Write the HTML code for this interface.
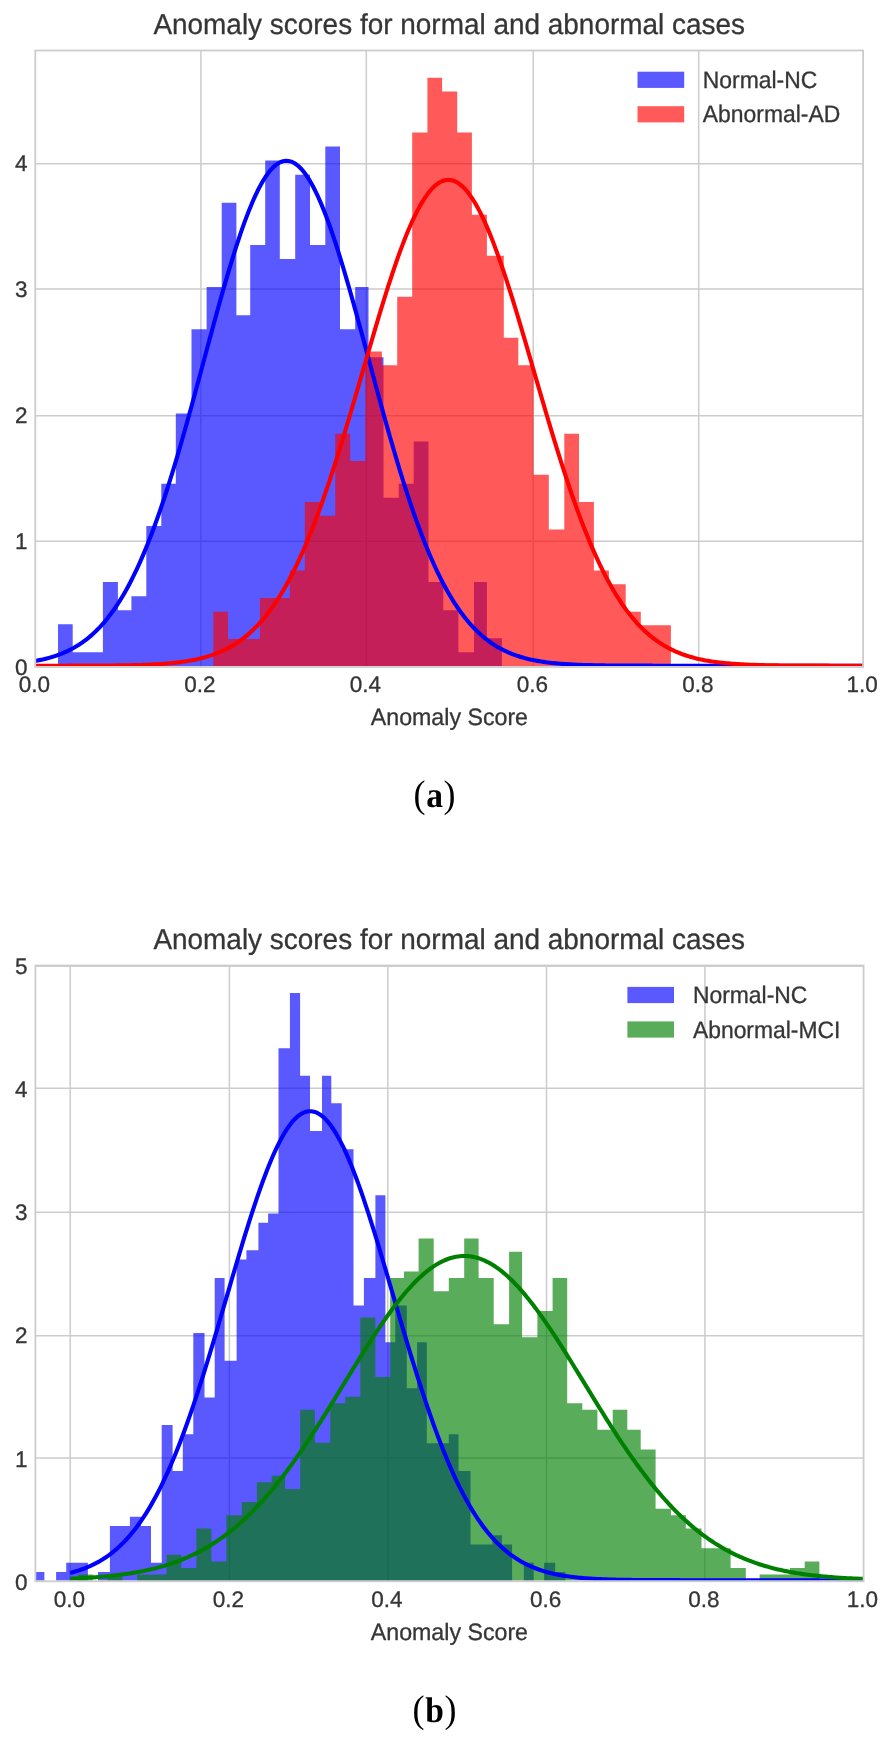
<!DOCTYPE html>
<html><head><meta charset="utf-8"><title>Anomaly scores</title>
<style>html,body{margin:0;padding:0;background:#fff;width:890px;height:1739px;overflow:hidden}svg{display:block}text{stroke:#363636;stroke-width:0.3px}</style>
</head><body>
<svg width="890" height="1739" viewBox="0 0 890 1739" font-family='"Liberation Sans", sans-serif' fill="#363636" text-rendering="geometricPrecision">
<defs><filter id="tb" x="-5%" y="-20%" width="110%" height="140%"><feGaussianBlur stdDeviation="0.5"/></filter></defs>
<rect width="890" height="1739" fill="#fff"/>
<clipPath id="ca"><rect x="35.3" y="50.5" width="827.8" height="615.5"/></clipPath>
<path d="M200.9 50.5 V667 M366.3 50.5 V667 M533.2 50.5 V667 M698.7 50.5 V667 M35.3 163.8 H863.1 M35.3 289.1 H863.1 M35.3 415.8 H863.1 M35.3 541.3 H863.1" stroke="#cccccc" stroke-width="1.5" fill="none"/>
<g clip-path="url(#ca)">
<path d="M58 667 L58 624.25 L72.7 624.25 L72.7 652.35 L87.8 652.35 L87.8 652.35 L102.9 652.35 L102.9 582.1 L117.9 582.1 L117.9 610.2 L131.4 610.2 L131.4 596.15 L146.3 596.15 L146.3 525.9 L161.3 525.9 L161.3 483.75 L175.8 483.75 L175.8 413.5 L191.5 413.5 L191.5 329.2 L206.6 329.2 L206.6 287.05 L221.7 287.05 L221.7 202.75 L236.4 202.75 L236.4 315.15 L250.2 315.15 L250.2 244.9 L265.2 244.9 L265.2 160.6 L279.8 160.6 L279.8 258.95 L295.2 258.95 L295.2 174.65 L310 174.65 L310 244.9 L325.3 244.9 L325.3 146.55 L340 146.55 L340 329.2 L355.2 329.2 L355.2 287.05 L368.5 287.05 L368.5 357.3 L383.5 357.3 L383.5 497.8 L398.7 497.8 L398.7 483.75 L413.7 483.75 L413.7 441.6 L428.5 441.6 L428.5 582.1 L443.3 582.1 L443.3 610.2 L458.4 610.2 L458.4 652.35 L474 652.35 L474 582.1 L486.9 582.1 L486.9 638.3 L501.9 638.3 L501.9 667 Z" fill="#0000ff" fill-opacity="0.65"/>
<path d="M213.3 667 L213.3 611.64 L228 611.64 L228 639.02 L243.95 639.02 L243.95 639.02 L259.9 639.02 L259.9 597.95 L274.85 597.95 L274.85 597.95 L289.8 597.95 L289.8 570.57 L304.8 570.57 L304.8 502.12 L320 502.12 L320 515.81 L335.2 515.81 L335.2 433.67 L350.2 433.67 L350.2 461.05 L365.4 461.05 L365.4 351.53 L381.9 351.53 L381.9 365.22 L397.2 365.22 L397.2 296.77 L412.2 296.77 L412.2 132.49 L427.4 132.49 L427.4 77.73 L442.1 77.73 L442.1 91.42 L457.2 91.42 L457.2 132.49 L471.9 132.49 L471.9 214.63 L486.9 214.63 L486.9 255.7 L503.8 255.7 L503.8 337.84 L518.3 337.84 L518.3 365.22 L533.6 365.22 L533.6 474.74 L548.8 474.74 L548.8 529.5 L564.3 529.5 L564.3 433.67 L579 433.67 L579 502.12 L593.9 502.12 L593.9 570.57 L608.9 570.57 L608.9 584.26 L625.7 584.26 L625.7 611.64 L640.8 611.64 L640.8 625.33 L655.85 625.33 L655.85 625.33 L670.9 625.33 L670.9 667 Z" fill="#ff0000" fill-opacity="0.65"/>
<path d="M35.3 660.91 L37.37 660.53 L39.45 660.12 L41.52 659.69 L43.6 659.22 L45.67 658.72 L47.75 658.19 L49.82 657.62 L51.9 657.02 L53.97 656.37 L56.05 655.69 L58.12 654.96 L60.2 654.18 L62.27 653.36 L64.35 652.49 L66.42 651.56 L68.49 650.58 L70.57 649.54 L72.64 648.44 L74.72 647.28 L76.79 646.05 L78.87 644.75 L80.94 643.38 L83.02 641.94 L85.09 640.42 L87.17 638.82 L89.24 637.14 L91.32 635.37 L93.39 633.51 L95.47 631.56 L97.54 629.51 L99.62 627.37 L101.69 625.12 L103.76 622.77 L105.84 620.31 L107.91 617.74 L109.99 615.06 L112.06 612.27 L114.14 609.35 L116.21 606.32 L118.29 603.15 L120.36 599.87 L122.44 596.45 L124.51 592.91 L126.59 589.23 L128.66 585.41 L130.74 581.46 L132.81 577.37 L134.88 573.15 L136.96 568.78 L139.03 564.27 L141.11 559.61 L143.18 554.82 L145.26 549.88 L147.33 544.79 L149.41 539.57 L151.48 534.2 L153.56 528.69 L155.63 523.04 L157.71 517.25 L159.78 511.33 L161.86 505.27 L163.93 499.08 L166.01 492.76 L168.08 486.31 L170.15 479.75 L172.23 473.06 L174.3 466.26 L176.38 459.36 L178.45 452.34 L180.53 445.24 L182.6 438.03 L184.68 430.75 L186.75 423.38 L188.83 415.94 L190.9 408.44 L192.98 400.88 L195.05 393.27 L197.13 385.62 L199.2 377.94 L201.27 370.24 L203.35 362.52 L205.42 354.8 L207.5 347.09 L209.57 339.39 L211.65 331.71 L213.72 324.08 L215.8 316.49 L217.87 308.96 L219.95 301.5 L222.02 294.12 L224.1 286.83 L226.17 279.64 L228.25 272.57 L230.32 265.62 L232.4 258.81 L234.47 252.15 L236.54 245.64 L238.62 239.3 L240.69 233.14 L242.77 227.17 L244.84 221.41 L246.92 215.85 L248.99 210.51 L251.07 205.4 L253.14 200.53 L255.22 195.91 L257.29 191.54 L259.37 187.43 L261.44 183.6 L263.52 180.04 L265.59 176.77 L267.66 173.8 L269.74 171.11 L271.81 168.73 L273.89 166.65 L275.96 164.89 L278.04 163.44 L280.11 162.3 L282.19 161.48 L284.26 160.98 L286.34 160.8 L288.41 160.94 L290.49 161.41 L292.56 162.19 L294.64 163.29 L296.71 164.71 L298.79 166.44 L300.86 168.48 L302.93 170.83 L305.01 173.48 L307.08 176.42 L309.16 179.66 L311.23 183.18 L313.31 186.99 L315.38 191.06 L317.46 195.4 L319.53 199.99 L321.61 204.84 L323.68 209.92 L325.76 215.23 L327.83 220.77 L329.91 226.51 L331.98 232.46 L334.05 238.59 L336.13 244.91 L338.2 251.4 L340.28 258.05 L342.35 264.84 L344.43 271.78 L346.5 278.84 L348.58 286.01 L350.65 293.29 L352.73 300.66 L354.8 308.11 L356.88 315.63 L358.95 323.22 L361.03 330.85 L363.1 338.52 L365.18 346.21 L367.25 353.93 L369.32 361.65 L371.4 369.37 L373.47 377.07 L375.55 384.75 L377.62 392.41 L379.7 400.02 L381.77 407.59 L383.85 415.1 L385.92 422.54 L388 429.92 L390.07 437.21 L392.15 444.42 L394.22 451.54 L396.3 458.57 L398.37 465.49 L400.44 472.3 L402.52 479 L404.59 485.58 L406.67 492.04 L408.74 498.37 L410.82 504.58 L412.89 510.65 L414.97 516.59 L417.04 522.39 L419.12 528.06 L421.19 533.58 L423.27 538.97 L425.34 544.21 L427.42 549.31 L429.49 554.26 L431.57 559.08 L433.64 563.75 L435.71 568.27 L437.79 572.66 L439.86 576.9 L441.94 581.01 L444.01 584.97 L446.09 588.8 L448.16 592.5 L450.24 596.06 L452.31 599.49 L454.39 602.79 L456.46 605.96 L458.54 609.01 L460.61 611.94 L462.69 614.75 L464.76 617.45 L466.83 620.03 L468.91 622.5 L470.98 624.86 L473.06 627.12 L475.13 629.27 L477.21 631.33 L479.28 633.29 L481.36 635.16 L483.43 636.94 L485.51 638.63 L487.58 640.24 L489.66 641.77 L491.73 643.22 L493.81 644.6 L495.88 645.91 L497.96 647.14 L500.03 648.31 L502.1 649.42 L504.18 650.46 L506.25 651.45 L508.33 652.38 L510.4 653.26 L512.48 654.09 L514.55 654.87 L516.63 655.61 L518.7 656.3 L520.78 656.95 L522.85 657.56 L524.93 658.13 L527 658.66 L529.08 659.16 L531.15 659.63 L533.22 660.07 L535.3 660.49 L537.37 660.87 L539.45 661.23 L541.52 661.56 L543.6 661.88 L545.67 662.17 L547.75 662.44 L549.82 662.69 L551.9 662.92 L553.97 663.14 L556.05 663.34 L558.12 663.53 L560.2 663.71 L562.27 663.87 L564.35 664.02 L566.42 664.15 L568.49 664.28 L570.57 664.4 L572.64 664.51 L574.72 664.61 L576.79 664.7 L578.87 664.79 L580.94 664.86 L583.02 664.94 L585.09 665 L587.17 665.06 L589.24 665.12 L591.32 665.17 L593.39 665.22 L595.47 665.26 L597.54 665.3 L599.61 665.34 L601.69 665.37 L603.76 665.4 L605.84 665.43 L607.91 665.46 L609.99 665.48 L612.06 665.5 L614.14 665.52 L616.21 665.54 L618.29 665.55 L620.36 665.57 L622.44 665.58 L624.51 665.59 L626.59 665.6 L628.66 665.61 L630.74 665.62 L632.81 665.63 L634.88 665.64 L636.96 665.64 L639.03 665.65 L641.11 665.65 L643.18 665.66 L645.26 665.66 L647.33 665.67 L649.41 665.67 L651.48 665.67 L653.56 665.68 L655.63 665.68 L657.71 665.68 L659.78 665.68 L661.86 665.68 L663.93 665.69 L666 665.69 L668.08 665.69 L670.15 665.69 L672.23 665.69 L674.3 665.69 L676.38 665.69 L678.45 665.69 L680.53 665.69 L682.6 665.7 L684.68 665.7 L686.75 665.7 L688.83 665.7 L690.9 665.7 L692.98 665.7 L695.05 665.7 L697.13 665.7 L699.2 665.7 L701.27 665.7 L703.35 665.7 L705.42 665.7 L707.5 665.7 L709.57 665.7 L711.65 665.7 L713.72 665.7 L715.8 665.7 L717.87 665.7 L719.95 665.7 L722.02 665.7 L724.1 665.7 L726.17 665.7 L728.25 665.7 L730.32 665.7 L732.39 665.7 L734.47 665.7 L736.54 665.7 L738.62 665.7 L740.69 665.7 L742.77 665.7 L744.84 665.7 L746.92 665.7 L748.99 665.7 L751.07 665.7 L753.14 665.7 L755.22 665.7 L757.29 665.7 L759.37 665.7 L761.44 665.7 L763.52 665.7 L765.59 665.7 L767.66 665.7 L769.74 665.7 L771.81 665.7 L773.89 665.7 L775.96 665.7 L778.04 665.7 L780.11 665.7 L782.19 665.7 L784.26 665.7 L786.34 665.7 L788.41 665.7 L790.49 665.7 L792.56 665.7 L794.64 665.7 L796.71 665.7 L798.78 665.7 L800.86 665.7 L802.93 665.7 L805.01 665.7 L807.08 665.7 L809.16 665.7 L811.23 665.7 L813.31 665.7 L815.38 665.7 L817.46 665.7 L819.53 665.7 L821.61 665.7 L823.68 665.7 L825.76 665.7 L827.83 665.7 L829.91 665.7 L831.98 665.7 L834.05 665.7 L836.13 665.7 L838.2 665.7 L840.28 665.7 L842.35 665.7 L844.43 665.7 L846.5 665.7 L848.58 665.7 L850.65 665.7 L852.73 665.7 L854.8 665.7 L856.88 665.7 L858.95 665.7 L861.03 665.7 L863.1 665.7" stroke="#0000ff" stroke-width="4.1" fill="none" stroke-linejoin="round"/>
<path d="M35.3 665.7 L37.37 665.7 L39.45 665.69 L41.52 665.69 L43.6 665.69 L45.67 665.69 L47.75 665.69 L49.82 665.69 L51.9 665.69 L53.97 665.69 L56.05 665.69 L58.12 665.69 L60.2 665.68 L62.27 665.68 L64.35 665.68 L66.42 665.68 L68.49 665.67 L70.57 665.67 L72.64 665.67 L74.72 665.67 L76.79 665.66 L78.87 665.66 L80.94 665.65 L83.02 665.65 L85.09 665.64 L87.17 665.64 L89.24 665.63 L91.32 665.62 L93.39 665.61 L95.47 665.6 L97.54 665.59 L99.62 665.58 L101.69 665.57 L103.76 665.56 L105.84 665.54 L107.91 665.52 L109.99 665.51 L112.06 665.49 L114.14 665.47 L116.21 665.44 L118.29 665.42 L120.36 665.39 L122.44 665.36 L124.51 665.33 L126.59 665.29 L128.66 665.25 L130.74 665.21 L132.81 665.16 L134.88 665.11 L136.96 665.06 L139.03 665 L141.11 664.94 L143.18 664.87 L145.26 664.79 L147.33 664.71 L149.41 664.62 L151.48 664.53 L153.56 664.42 L155.63 664.31 L157.71 664.19 L159.78 664.06 L161.86 663.93 L163.93 663.78 L166.01 663.61 L168.08 663.44 L170.15 663.26 L172.23 663.06 L174.3 662.84 L176.38 662.61 L178.45 662.36 L180.53 662.1 L182.6 661.82 L184.68 661.51 L186.75 661.19 L188.83 660.84 L190.9 660.47 L192.98 660.08 L195.05 659.66 L197.13 659.21 L199.2 658.73 L201.27 658.22 L203.35 657.68 L205.42 657.11 L207.5 656.5 L209.57 655.85 L211.65 655.16 L213.72 654.44 L215.8 653.66 L217.87 652.85 L219.95 651.98 L222.02 651.07 L224.1 650.1 L226.17 649.08 L228.25 648.01 L230.32 646.87 L232.4 645.67 L234.47 644.42 L236.54 643.09 L238.62 641.7 L240.69 640.23 L242.77 638.7 L244.84 637.08 L246.92 635.39 L248.99 633.62 L251.07 631.76 L253.14 629.82 L255.22 627.78 L257.29 625.66 L259.37 623.44 L261.44 621.13 L263.52 618.71 L265.59 616.2 L267.66 613.58 L269.74 610.85 L271.81 608.02 L273.89 605.08 L275.96 602.02 L278.04 598.85 L280.11 595.56 L282.19 592.15 L284.26 588.62 L286.34 584.97 L288.41 581.2 L290.49 577.3 L292.56 573.28 L294.64 569.13 L296.71 564.86 L298.79 560.45 L300.86 555.92 L302.93 551.27 L305.01 546.48 L307.08 541.57 L309.16 536.53 L311.23 531.37 L313.31 526.08 L315.38 520.67 L317.46 515.14 L319.53 509.49 L321.61 503.72 L323.68 497.84 L325.76 491.85 L327.83 485.74 L329.91 479.54 L331.98 473.23 L334.05 466.83 L336.13 460.34 L338.2 453.76 L340.28 447.09 L342.35 440.35 L344.43 433.54 L346.5 426.66 L348.58 419.73 L350.65 412.74 L352.73 405.71 L354.8 398.64 L356.88 391.53 L358.95 384.41 L361.03 377.27 L363.1 370.12 L365.18 362.97 L367.25 355.83 L369.32 348.71 L371.4 341.62 L373.47 334.56 L375.55 327.55 L377.62 320.6 L379.7 313.71 L381.77 306.89 L383.85 300.15 L385.92 293.51 L388 286.97 L390.07 280.55 L392.15 274.24 L394.22 268.06 L396.3 262.03 L398.37 256.14 L400.44 250.42 L402.52 244.86 L404.59 239.48 L406.67 234.28 L408.74 229.27 L410.82 224.47 L412.89 219.88 L414.97 215.51 L417.04 211.36 L419.12 207.44 L421.19 203.76 L423.27 200.32 L425.34 197.13 L427.42 194.2 L429.49 191.54 L431.57 189.13 L433.64 187 L435.71 185.14 L437.79 183.55 L439.86 182.25 L441.94 181.23 L444.01 180.49 L446.09 180.03 L448.16 179.86 L450.24 179.98 L452.31 180.38 L454.39 181.07 L456.46 182.04 L458.54 183.3 L460.61 184.83 L462.69 186.64 L464.76 188.73 L466.83 191.08 L468.91 193.71 L470.98 196.59 L473.06 199.73 L475.13 203.12 L477.21 206.76 L479.28 210.64 L481.36 214.74 L483.43 219.08 L485.51 223.63 L487.58 228.4 L489.66 233.37 L491.73 238.53 L493.81 243.88 L495.88 249.41 L497.96 255.1 L500.03 260.96 L502.1 266.97 L504.18 273.12 L506.25 279.41 L508.33 285.81 L510.4 292.33 L512.48 298.96 L514.55 305.68 L516.63 312.48 L518.7 319.36 L520.78 326.3 L522.85 333.3 L524.93 340.35 L527 347.44 L529.08 354.55 L531.15 361.69 L533.22 368.83 L535.3 375.98 L537.37 383.13 L539.45 390.26 L541.52 397.36 L543.6 404.44 L545.67 411.48 L547.75 418.48 L549.82 425.42 L551.9 432.31 L553.97 439.14 L556.05 445.89 L558.12 452.57 L560.2 459.16 L562.27 465.67 L564.35 472.09 L566.42 478.42 L568.49 484.64 L570.57 490.76 L572.64 496.77 L574.72 502.67 L576.79 508.46 L578.87 514.13 L580.94 519.69 L583.02 525.12 L585.09 530.43 L587.17 535.61 L589.24 540.68 L591.32 545.61 L593.39 550.42 L595.47 555.1 L597.54 559.65 L599.61 564.08 L601.69 568.37 L603.76 572.54 L605.84 576.59 L607.91 580.51 L609.99 584.3 L612.06 587.98 L614.14 591.52 L616.21 594.95 L618.29 598.26 L620.36 601.46 L622.44 604.54 L624.51 607.5 L626.59 610.35 L628.66 613.1 L630.74 615.74 L632.81 618.27 L634.88 620.7 L636.96 623.03 L639.03 625.27 L641.11 627.41 L643.18 629.46 L645.26 631.42 L647.33 633.29 L649.41 635.08 L651.48 636.78 L653.56 638.41 L655.63 639.96 L657.71 641.44 L659.78 642.85 L661.86 644.18 L663.93 645.45 L666 646.66 L668.08 647.81 L670.15 648.89 L672.23 649.92 L674.3 650.9 L676.38 651.82 L678.45 652.69 L680.53 653.52 L682.6 654.3 L684.68 655.04 L686.75 655.73 L688.83 656.39 L690.9 657 L692.98 657.58 L695.05 658.13 L697.13 658.64 L699.2 659.13 L701.27 659.58 L703.35 660.01 L705.42 660.4 L707.5 660.78 L709.57 661.13 L711.65 661.46 L713.72 661.76 L715.8 662.05 L717.87 662.32 L719.95 662.57 L722.02 662.8 L724.1 663.02 L726.17 663.22 L728.25 663.41 L730.32 663.58 L732.39 663.75 L734.47 663.9 L736.54 664.04 L738.62 664.17 L740.69 664.29 L742.77 664.4 L744.84 664.51 L746.92 664.61 L748.99 664.69 L751.07 664.78 L753.14 664.85 L755.22 664.92 L757.29 664.99 L759.37 665.05 L761.44 665.1 L763.52 665.15 L765.59 665.2 L767.66 665.24 L769.74 665.28 L771.81 665.32 L773.89 665.35 L775.96 665.38 L778.04 665.41 L780.11 665.44 L782.19 665.46 L784.26 665.48 L786.34 665.5 L788.41 665.52 L790.49 665.54 L792.56 665.55 L794.64 665.57 L796.71 665.58 L798.78 665.59 L800.86 665.6 L802.93 665.61 L805.01 665.62 L807.08 665.63 L809.16 665.63 L811.23 665.64 L813.31 665.65 L815.38 665.65 L817.46 665.66 L819.53 665.66 L821.61 665.66 L823.68 665.67 L825.76 665.67 L827.83 665.67 L829.91 665.68 L831.98 665.68 L834.05 665.68 L836.13 665.68 L838.2 665.69 L840.28 665.69 L842.35 665.69 L844.43 665.69 L846.5 665.69 L848.58 665.69 L850.65 665.69 L852.73 665.69 L854.8 665.69 L856.88 665.69 L858.95 665.7 L861.03 665.7 L863.1 665.7" stroke="#ff0000" stroke-width="4.1" fill="none" stroke-linejoin="round"/>
</g>
<rect x="35.3" y="50.5" width="827.8" height="616.5" fill="none" stroke="#cccccc" stroke-width="1.8"/>
<rect x="637.5" y="71.7" width="46.7" height="16.2" fill="#0000ff" fill-opacity="0.65"/>
<text transform="translate(702.8 87.9) scale(1 1.04)" font-size="22.9" filter="url(#tb)">Normal-NC</text>
<rect x="637.5" y="106.2" width="46.7" height="16.2" fill="#ff0000" fill-opacity="0.65"/>
<text transform="translate(702.8 122.4) scale(1 1.04)" font-size="22.9" filter="url(#tb)">Abnormal-AD</text>
<text transform="translate(34.4 692)" font-size="22.5" text-anchor="middle" filter="url(#tb)">0.0</text>
<text transform="translate(200 692)" font-size="22.5" text-anchor="middle" filter="url(#tb)">0.2</text>
<text transform="translate(365.4 692)" font-size="22.5" text-anchor="middle" filter="url(#tb)">0.4</text>
<text transform="translate(532.3 692)" font-size="22.5" text-anchor="middle" filter="url(#tb)">0.6</text>
<text transform="translate(697.8 692)" font-size="22.5" text-anchor="middle" filter="url(#tb)">0.8</text>
<text transform="translate(862.2 692)" font-size="22.5" text-anchor="middle" filter="url(#tb)">1.0</text>
<text transform="translate(27.4 674.54)" font-size="22.5" text-anchor="end" filter="url(#tb)">0</text>
<text transform="translate(27.4 548.64)" font-size="22.5" text-anchor="end" filter="url(#tb)">1</text>
<text transform="translate(27.4 422.74)" font-size="22.5" text-anchor="end" filter="url(#tb)">2</text>
<text transform="translate(27.4 296.84)" font-size="22.5" text-anchor="end" filter="url(#tb)">3</text>
<text transform="translate(27.4 170.94)" font-size="22.5" text-anchor="end" filter="url(#tb)">4</text>
<text transform="translate(449.2 34.1) scale(1 1.03)" font-size="27.94" text-anchor="middle" filter="url(#tb)">Anomaly scores for normal and abnormal cases</text>
<text transform="translate(449.4 725.3) scale(1 1.02)" font-size="23.2" text-anchor="middle" filter="url(#tb)">Anomaly Score</text>
<text transform="translate(434.9 807.2) scale(1 1.07)" font-family='"Liberation Serif", serif' font-size="36" fill="#000" style="stroke:none" text-anchor="middle" letter-spacing="0.65" filter="url(#tb)">(<tspan font-weight="bold" font-size="33.5">a</tspan>)</text>
<clipPath id="cb"><rect x="35.4" y="965.5" width="828.2" height="615"/></clipPath>
<path d="M70.2 965.5 V1582 M229.4 965.5 V1582 M387.8 965.5 V1582 M546.5 965.5 V1582 M704.9 965.5 V1582 M35.4 1458 H863.6 M35.4 1335.8 H863.6 M35.4 1212.3 H863.6 M35.4 1088.2 H863.6 M35.4 966.3 H863.6" stroke="#cccccc" stroke-width="1.5" fill="none"/>
<g clip-path="url(#cb)">
<path d="M33.77 1581.5 L33.77 1572.01 L44.4 1572.01 L44.4 1581.2 L56.1 1581.2 L56.1 1572.01 L66.2 1572.01 L66.2 1562.82 L77.05 1562.82 L77.05 1562.82 L87.9 1562.82 L87.9 1581.2 L98 1581.2 L98 1572.01 L109.9 1572.01 L109.9 1526.06 L119.9 1526.06 L119.9 1526.06 L129.9 1526.06 L129.9 1516.87 L141 1516.87 L141 1526.06 L151 1526.06 L151 1562.82 L161.7 1562.82 L161.7 1424.97 L172.6 1424.97 L172.6 1470.92 L182.8 1470.92 L182.8 1434.16 L193.3 1434.16 L193.3 1333.07 L204.5 1333.07 L204.5 1397.4 L214.7 1397.4 L214.7 1277.93 L224.6 1277.93 L224.6 1360.64 L236.6 1360.64 L236.6 1259.55 L246.4 1259.55 L246.4 1250.36 L258.4 1250.36 L258.4 1222.79 L268.1 1222.79 L268.1 1213.6 L278.5 1213.6 L278.5 1048.18 L289.9 1048.18 L289.9 993.04 L300.1 993.04 L300.1 1075.75 L310 1075.75 L310 1130.89 L322 1130.89 L322 1075.75 L331.3 1075.75 L331.3 1103.32 L341.7 1103.32 L341.7 1149.27 L353.5 1149.27 L353.5 1305.5 L363.9 1305.5 L363.9 1277.93 L375.4 1277.93 L375.4 1195.22 L385.4 1195.22 L385.4 1342.26 L395.3 1342.26 L395.3 1305.5 L406.8 1305.5 L406.8 1388.21 L417.1 1388.21 L417.1 1342.26 L426.8 1342.26 L426.8 1443.35 L437.8 1443.35 L437.8 1443.35 L448.8 1443.35 L448.8 1434.16 L458.5 1434.16 L458.5 1470.92 L470.5 1470.92 L470.5 1544.44 L481.45 1544.44 L481.45 1544.44 L492.4 1544.44 L492.4 1535.25 L501.9 1535.25 L501.9 1544.44 L512.1 1544.44 L512.1 1581.2 L523.8 1581.2 L523.8 1562.82 L533.7 1562.82 L533.7 1581.2 L544.1 1581.2 L544.1 1562.82 L555.2 1562.82 L555.2 1572.01 L565.5 1572.01 L565.5 1581.5 Z" fill="#0000ff" fill-opacity="0.65"/>
<path d="M78.1 1581.5 L78.1 1574.61 L92.9 1574.61 L92.9 1581.2 L107.64 1581.2 L107.64 1574.61 L122.38 1574.61 L122.38 1581.2 L137.12 1581.2 L137.12 1574.61 L151.86 1574.61 L151.86 1574.61 L166.6 1574.61 L166.6 1554.84 L181.3 1554.84 L181.3 1568.02 L196.4 1568.02 L196.4 1528.48 L211.4 1528.48 L211.4 1561.43 L226.4 1561.43 L226.4 1515.3 L241.8 1515.3 L241.8 1502.12 L256.9 1502.12 L256.9 1482.35 L271.8 1482.35 L271.8 1475.76 L285.1 1475.76 L285.1 1488.94 L300.2 1488.94 L300.2 1409.86 L314.9 1409.86 L314.9 1442.81 L330.3 1442.81 L330.3 1403.27 L345.2 1403.27 L345.2 1396.68 L360.3 1396.68 L360.3 1317.6 L375.4 1317.6 L375.4 1376.91 L390.2 1376.91 L390.2 1278.06 L403.9 1278.06 L403.9 1271.47 L418.6 1271.47 L418.6 1238.52 L433.7 1238.52 L433.7 1291.24 L448.8 1291.24 L448.8 1278.06 L464.2 1278.06 L464.2 1238.52 L478.6 1238.52 L478.6 1278.06 L493.7 1278.06 L493.7 1324.19 L509.1 1324.19 L509.1 1251.7 L522.1 1251.7 L522.1 1337.37 L537.4 1337.37 L537.4 1311.01 L552.6 1311.01 L552.6 1278.06 L567.2 1278.06 L567.2 1403.27 L582.3 1403.27 L582.3 1409.86 L597.4 1409.86 L597.4 1429.63 L612.7 1429.63 L612.7 1409.86 L627.3 1409.86 L627.3 1429.63 L640.7 1429.63 L640.7 1449.4 L655.6 1449.4 L655.6 1508.71 L670.9 1508.71 L670.9 1515.3 L685.8 1515.3 L685.8 1528.48 L701.5 1528.48 L701.5 1548.25 L716.05 1548.25 L716.05 1548.25 L730.6 1548.25 L730.6 1568.02 L745.8 1568.02 L745.8 1581.2 L759.6 1581.2 L759.6 1574.61 L774.7 1574.61 L774.7 1574.61 L789.8 1574.61 L789.8 1568.02 L804.7 1568.02 L804.7 1561.43 L819.4 1561.43 L819.4 1581.5 Z" fill="#008000" fill-opacity="0.65"/>
<path d="M70.2 1572.92 L72.19 1572.4 L74.18 1571.85 L76.16 1571.27 L78.15 1570.65 L80.14 1569.99 L82.13 1569.29 L84.12 1568.56 L86.1 1567.78 L88.09 1566.96 L90.08 1566.09 L92.07 1565.17 L94.06 1564.2 L96.04 1563.18 L98.03 1562.1 L100.02 1560.97 L102.01 1559.78 L104 1558.53 L105.98 1557.21 L107.97 1555.82 L109.96 1554.37 L111.95 1552.85 L113.94 1551.25 L115.92 1549.58 L117.91 1547.83 L119.9 1546 L121.89 1544.09 L123.88 1542.09 L125.86 1540 L127.85 1537.82 L129.84 1535.55 L131.83 1533.19 L133.82 1530.73 L135.8 1528.17 L137.79 1525.51 L139.78 1522.75 L141.77 1519.88 L143.75 1516.91 L145.74 1513.82 L147.73 1510.63 L149.72 1507.32 L151.71 1503.9 L153.69 1500.37 L155.68 1496.71 L157.67 1492.95 L159.66 1489.06 L161.65 1485.06 L163.63 1480.93 L165.62 1476.69 L167.61 1472.33 L169.6 1467.84 L171.59 1463.24 L173.57 1458.52 L175.56 1453.68 L177.55 1448.72 L179.54 1443.65 L181.53 1438.47 L183.51 1433.17 L185.5 1427.75 L187.49 1422.24 L189.48 1416.61 L191.47 1410.88 L193.45 1405.05 L195.44 1399.12 L197.43 1393.1 L199.42 1386.99 L201.41 1380.8 L203.39 1374.52 L205.38 1368.17 L207.37 1361.74 L209.36 1355.26 L211.35 1348.7 L213.33 1342.1 L215.32 1335.45 L217.31 1328.75 L219.3 1322.02 L221.29 1315.26 L223.27 1308.48 L225.26 1301.69 L227.25 1294.88 L229.24 1288.08 L231.23 1281.29 L233.21 1274.52 L235.2 1267.77 L237.19 1261.05 L239.18 1254.38 L241.17 1247.75 L243.15 1241.19 L245.14 1234.69 L247.13 1228.27 L249.12 1221.94 L251.11 1215.7 L253.09 1209.56 L255.08 1203.54 L257.07 1197.64 L259.06 1191.86 L261.05 1186.23 L263.03 1180.74 L265.02 1175.41 L267.01 1170.24 L269 1165.24 L270.98 1160.42 L272.97 1155.79 L274.96 1151.35 L276.95 1147.12 L278.94 1143.09 L280.92 1139.27 L282.91 1135.68 L284.9 1132.32 L286.89 1129.18 L288.88 1126.29 L290.86 1123.64 L292.85 1121.23 L294.84 1119.08 L296.83 1117.18 L298.82 1115.53 L300.8 1114.15 L302.79 1113.04 L304.78 1112.18 L306.77 1111.6 L308.76 1111.28 L310.74 1111.23 L312.73 1111.45 L314.72 1111.93 L316.71 1112.68 L318.7 1113.7 L320.68 1114.98 L322.67 1116.53 L324.66 1118.33 L326.65 1120.39 L328.64 1122.7 L330.62 1125.26 L332.61 1128.06 L334.6 1131.11 L336.59 1134.39 L338.58 1137.89 L340.56 1141.62 L342.55 1145.57 L344.54 1149.73 L346.53 1154.09 L348.52 1158.65 L350.5 1163.4 L352.49 1168.34 L354.48 1173.44 L356.47 1178.71 L358.46 1184.14 L360.44 1189.72 L362.43 1195.45 L364.42 1201.3 L366.41 1207.28 L368.4 1213.37 L370.38 1219.58 L372.37 1225.87 L374.36 1232.26 L376.35 1238.73 L378.34 1245.27 L380.32 1251.87 L382.31 1258.53 L384.3 1265.23 L386.29 1271.97 L388.28 1278.74 L390.26 1285.52 L392.25 1292.32 L394.24 1299.12 L396.23 1305.92 L398.22 1312.71 L400.2 1319.48 L402.19 1326.22 L404.18 1332.93 L406.17 1339.6 L408.15 1346.22 L410.14 1352.79 L412.13 1359.31 L414.12 1365.76 L416.11 1372.14 L418.09 1378.44 L420.08 1384.67 L422.07 1390.81 L424.06 1396.87 L426.05 1402.83 L428.03 1408.69 L430.02 1414.46 L432.01 1420.13 L434 1425.69 L435.99 1431.14 L437.97 1436.48 L439.96 1441.71 L441.95 1446.83 L443.94 1451.83 L445.93 1456.71 L447.91 1461.48 L449.9 1466.12 L451.89 1470.65 L453.88 1475.06 L455.87 1479.35 L457.85 1483.52 L459.84 1487.56 L461.83 1491.5 L463.82 1495.31 L465.81 1499 L467.79 1502.58 L469.78 1506.04 L471.77 1509.39 L473.76 1512.63 L475.75 1515.76 L477.73 1518.77 L479.72 1521.68 L481.71 1524.48 L483.7 1527.18 L485.69 1529.78 L487.67 1532.28 L489.66 1534.68 L491.65 1536.98 L493.64 1539.19 L495.63 1541.31 L497.61 1543.34 L499.6 1545.29 L501.59 1547.15 L503.58 1548.93 L505.57 1550.63 L507.55 1552.26 L509.54 1553.81 L511.53 1555.28 L513.52 1556.69 L515.51 1558.04 L517.49 1559.31 L519.48 1560.53 L521.47 1561.68 L523.46 1562.78 L525.45 1563.82 L527.43 1564.81 L529.42 1565.75 L531.41 1566.64 L533.4 1567.48 L535.38 1568.27 L537.37 1569.02 L539.36 1569.73 L541.35 1570.4 L543.34 1571.04 L545.32 1571.63 L547.31 1572.2 L549.3 1572.73 L551.29 1573.23 L553.28 1573.69 L555.26 1574.14 L557.25 1574.55 L559.24 1574.94 L561.23 1575.3 L563.22 1575.65 L565.2 1575.97 L567.19 1576.27 L569.18 1576.55 L571.17 1576.81 L573.16 1577.06 L575.14 1577.29 L577.13 1577.5 L579.12 1577.7 L581.11 1577.89 L583.1 1578.06 L585.08 1578.23 L587.07 1578.38 L589.06 1578.52 L591.05 1578.65 L593.04 1578.77 L595.02 1578.88 L597.01 1578.98 L599 1579.08 L600.99 1579.17 L602.98 1579.25 L604.96 1579.33 L606.95 1579.4 L608.94 1579.47 L610.93 1579.53 L612.92 1579.58 L614.9 1579.63 L616.89 1579.68 L618.88 1579.73 L620.87 1579.77 L622.86 1579.8 L624.84 1579.84 L626.83 1579.87 L628.82 1579.9 L630.81 1579.92 L632.8 1579.95 L634.78 1579.97 L636.77 1579.99 L638.76 1580.01 L640.75 1580.03 L642.74 1580.04 L644.72 1580.06 L646.71 1580.07 L648.7 1580.08 L650.69 1580.09 L652.68 1580.1 L654.66 1580.11 L656.65 1580.12 L658.64 1580.13 L660.63 1580.14 L662.62 1580.14 L664.6 1580.15 L666.59 1580.15 L668.58 1580.16 L670.57 1580.16 L672.55 1580.17 L674.54 1580.17 L676.53 1580.17 L678.52 1580.17 L680.51 1580.18 L682.49 1580.18 L684.48 1580.18 L686.47 1580.18 L688.46 1580.19 L690.45 1580.19 L692.43 1580.19 L694.42 1580.19 L696.41 1580.19 L698.4 1580.19 L700.39 1580.19 L702.37 1580.19 L704.36 1580.19 L706.35 1580.19 L708.34 1580.2 L710.33 1580.2 L712.31 1580.2 L714.3 1580.2 L716.29 1580.2 L718.28 1580.2 L720.27 1580.2 L722.25 1580.2 L724.24 1580.2 L726.23 1580.2 L728.22 1580.2 L730.21 1580.2 L732.19 1580.2 L734.18 1580.2 L736.17 1580.2 L738.16 1580.2 L740.15 1580.2 L742.13 1580.2 L744.12 1580.2 L746.11 1580.2 L748.1 1580.2 L750.09 1580.2 L752.07 1580.2 L754.06 1580.2 L756.05 1580.2 L758.04 1580.2 L760.03 1580.2 L762.01 1580.2 L764 1580.2 L765.99 1580.2 L767.98 1580.2 L769.97 1580.2 L771.95 1580.2 L773.94 1580.2 L775.93 1580.2 L777.92 1580.2 L779.91 1580.2 L781.89 1580.2 L783.88 1580.2 L785.87 1580.2 L787.86 1580.2 L789.85 1580.2 L791.83 1580.2 L793.82 1580.2 L795.81 1580.2 L797.8 1580.2 L799.78 1580.2 L801.77 1580.2 L803.76 1580.2 L805.75 1580.2 L807.74 1580.2 L809.72 1580.2 L811.71 1580.2 L813.7 1580.2 L815.69 1580.2 L817.68 1580.2 L819.66 1580.2 L821.65 1580.2 L823.64 1580.2 L825.63 1580.2 L827.62 1580.2 L829.6 1580.2 L831.59 1580.2 L833.58 1580.2 L835.57 1580.2 L837.56 1580.2 L839.54 1580.2 L841.53 1580.2 L843.52 1580.2 L845.51 1580.2 L847.5 1580.2 L849.48 1580.2 L851.47 1580.2 L853.46 1580.2 L855.45 1580.2 L857.44 1580.2 L859.42 1580.2 L861.41 1580.2 L863.4 1580.2" stroke="#0000ff" stroke-width="4.1" fill="none" stroke-linejoin="round"/>
<path d="M70.2 1578.69 L72.19 1578.61 L74.18 1578.52 L76.16 1578.43 L78.15 1578.33 L80.14 1578.23 L82.13 1578.12 L84.12 1578.01 L86.1 1577.89 L88.09 1577.77 L90.08 1577.64 L92.07 1577.51 L94.06 1577.37 L96.04 1577.22 L98.03 1577.07 L100.02 1576.9 L102.01 1576.74 L104 1576.56 L105.98 1576.37 L107.97 1576.18 L109.96 1575.98 L111.95 1575.77 L113.94 1575.55 L115.92 1575.32 L117.91 1575.08 L119.9 1574.83 L121.89 1574.58 L123.88 1574.31 L125.86 1574.02 L127.85 1573.73 L129.84 1573.43 L131.83 1573.11 L133.82 1572.78 L135.8 1572.43 L137.79 1572.07 L139.78 1571.7 L141.77 1571.32 L143.75 1570.91 L145.74 1570.5 L147.73 1570.06 L149.72 1569.62 L151.71 1569.15 L153.69 1568.67 L155.68 1568.16 L157.67 1567.64 L159.66 1567.11 L161.65 1566.55 L163.63 1565.97 L165.62 1565.37 L167.61 1564.75 L169.6 1564.11 L171.59 1563.45 L173.57 1562.76 L175.56 1562.05 L177.55 1561.32 L179.54 1560.56 L181.53 1559.78 L183.51 1558.98 L185.5 1558.14 L187.49 1557.28 L189.48 1556.4 L191.47 1555.49 L193.45 1554.54 L195.44 1553.58 L197.43 1552.58 L199.42 1551.55 L201.41 1550.49 L203.39 1549.4 L205.38 1548.28 L207.37 1547.13 L209.36 1545.94 L211.35 1544.73 L213.33 1543.48 L215.32 1542.19 L217.31 1540.87 L219.3 1539.52 L221.29 1538.13 L223.27 1536.71 L225.26 1535.25 L227.25 1533.75 L229.24 1532.22 L231.23 1530.65 L233.21 1529.05 L235.2 1527.4 L237.19 1525.72 L239.18 1524 L241.17 1522.24 L243.15 1520.45 L245.14 1518.61 L247.13 1516.73 L249.12 1514.82 L251.11 1512.86 L253.09 1510.87 L255.08 1508.84 L257.07 1506.77 L259.06 1504.65 L261.05 1502.5 L263.03 1500.31 L265.02 1498.08 L267.01 1495.81 L269 1493.5 L270.98 1491.16 L272.97 1488.77 L274.96 1486.35 L276.95 1483.88 L278.94 1481.39 L280.92 1478.85 L282.91 1476.27 L284.9 1473.67 L286.89 1471.02 L288.88 1468.34 L290.86 1465.62 L292.85 1462.88 L294.84 1460.09 L296.83 1457.28 L298.82 1454.43 L300.8 1451.56 L302.79 1448.65 L304.78 1445.72 L306.77 1442.75 L308.76 1439.76 L310.74 1436.75 L312.73 1433.71 L314.72 1430.64 L316.71 1427.55 L318.7 1424.45 L320.68 1421.32 L322.67 1418.17 L324.66 1415.01 L326.65 1411.83 L328.64 1408.64 L330.62 1405.43 L332.61 1402.21 L334.6 1398.99 L336.59 1395.75 L338.58 1392.51 L340.56 1389.26 L342.55 1386.01 L344.54 1382.76 L346.53 1379.51 L348.52 1376.26 L350.5 1373.02 L352.49 1369.78 L354.48 1366.55 L356.47 1363.33 L358.46 1360.12 L360.44 1356.93 L362.43 1353.75 L364.42 1350.58 L366.41 1347.44 L368.4 1344.32 L370.38 1341.22 L372.37 1338.15 L374.36 1335.1 L376.35 1332.09 L378.34 1329.1 L380.32 1326.15 L382.31 1323.24 L384.3 1320.36 L386.29 1317.52 L388.28 1314.73 L390.26 1311.97 L392.25 1309.27 L394.24 1306.61 L396.23 1304 L398.22 1301.44 L400.2 1298.93 L402.19 1296.48 L404.18 1294.09 L406.17 1291.75 L408.15 1289.48 L410.14 1287.26 L412.13 1285.12 L414.12 1283.03 L416.11 1281.02 L418.09 1279.07 L420.08 1277.19 L422.07 1275.38 L424.06 1273.65 L426.05 1271.99 L428.03 1270.41 L430.02 1268.9 L432.01 1267.48 L434 1266.13 L435.99 1264.86 L437.97 1263.67 L439.96 1262.57 L441.95 1261.55 L443.94 1260.61 L445.93 1259.76 L447.91 1258.99 L449.9 1258.31 L451.89 1257.72 L453.88 1257.21 L455.87 1256.79 L457.85 1256.46 L459.84 1256.22 L461.83 1256.06 L463.82 1256 L465.81 1256.02 L467.79 1256.13 L469.78 1256.33 L471.77 1256.62 L473.76 1256.99 L475.75 1257.46 L477.73 1258.01 L479.72 1258.65 L481.71 1259.37 L483.7 1260.18 L485.69 1261.08 L487.67 1262.06 L489.66 1263.12 L491.65 1264.27 L493.64 1265.5 L495.63 1266.81 L497.61 1268.2 L499.6 1269.67 L501.59 1271.21 L503.58 1272.83 L505.57 1274.53 L507.55 1276.3 L509.54 1278.14 L511.53 1280.06 L513.52 1282.04 L515.51 1284.09 L517.49 1286.21 L519.48 1288.39 L521.47 1290.64 L523.46 1292.94 L525.45 1295.31 L527.43 1297.73 L529.42 1300.21 L531.41 1302.74 L533.4 1305.33 L535.38 1307.97 L537.37 1310.65 L539.36 1313.38 L541.35 1316.16 L543.34 1318.97 L545.32 1321.83 L547.31 1324.73 L549.3 1327.66 L551.29 1330.63 L553.28 1333.63 L555.26 1336.66 L557.25 1339.72 L559.24 1342.81 L561.23 1345.92 L563.22 1349.05 L565.2 1352.2 L567.19 1355.38 L569.18 1358.56 L571.17 1361.77 L573.16 1364.98 L575.14 1368.21 L577.13 1371.44 L579.12 1374.68 L581.11 1377.93 L583.1 1381.18 L585.08 1384.43 L587.07 1387.68 L589.06 1390.93 L591.05 1394.17 L593.04 1397.41 L595.02 1400.64 L597.01 1403.86 L599 1407.08 L600.99 1410.28 L602.98 1413.46 L604.96 1416.63 L606.95 1419.79 L608.94 1422.92 L610.93 1426.04 L612.92 1429.14 L614.9 1432.21 L616.89 1435.27 L618.88 1438.3 L620.87 1441.3 L622.86 1444.27 L624.84 1447.22 L626.83 1450.14 L628.82 1453.04 L630.81 1455.9 L632.8 1458.73 L634.78 1461.52 L636.77 1464.29 L638.76 1467.02 L640.75 1469.72 L642.74 1472.38 L644.72 1475.01 L646.71 1477.6 L648.7 1480.15 L650.69 1482.67 L652.68 1485.15 L654.66 1487.59 L656.65 1490 L658.64 1492.36 L660.63 1494.69 L662.62 1496.98 L664.6 1499.23 L666.59 1501.44 L668.58 1503.61 L670.57 1505.74 L672.55 1507.83 L674.54 1509.89 L676.53 1511.9 L678.52 1513.87 L680.51 1515.81 L682.49 1517.7 L684.48 1519.55 L686.47 1521.37 L688.46 1523.15 L690.45 1524.89 L692.43 1526.59 L694.42 1528.25 L696.41 1529.88 L698.4 1531.46 L700.39 1533.01 L702.37 1534.53 L704.36 1536 L706.35 1537.44 L708.34 1538.85 L710.33 1540.22 L712.31 1541.55 L714.3 1542.85 L716.29 1544.12 L718.28 1545.35 L720.27 1546.55 L722.25 1547.72 L724.24 1548.86 L726.23 1549.96 L728.22 1551.04 L730.21 1552.08 L732.19 1553.09 L734.18 1554.08 L736.17 1555.03 L738.16 1555.96 L740.15 1556.86 L742.13 1557.73 L744.12 1558.57 L746.11 1559.39 L748.1 1560.19 L750.09 1560.95 L752.07 1561.7 L754.06 1562.42 L756.05 1563.12 L758.04 1563.79 L760.03 1564.44 L762.01 1565.07 L764 1565.68 L765.99 1566.27 L767.98 1566.84 L769.97 1567.38 L771.95 1567.91 L773.94 1568.42 L775.93 1568.92 L777.92 1569.39 L779.91 1569.85 L781.89 1570.29 L783.88 1570.71 L785.87 1571.12 L787.86 1571.52 L789.85 1571.9 L791.83 1572.26 L793.82 1572.61 L795.81 1572.95 L797.8 1573.27 L799.78 1573.58 L801.77 1573.88 L803.76 1574.17 L805.75 1574.45 L807.74 1574.71 L809.72 1574.96 L811.71 1575.21 L813.7 1575.44 L815.69 1575.66 L817.68 1575.88 L819.66 1576.08 L821.65 1576.28 L823.64 1576.47 L825.63 1576.65 L827.62 1576.82 L829.6 1576.99 L831.59 1577.15 L833.58 1577.3 L835.57 1577.44 L837.56 1577.58 L839.54 1577.71 L841.53 1577.84 L843.52 1577.95 L845.51 1578.07 L847.5 1578.18 L849.48 1578.28 L851.47 1578.38 L853.46 1578.48 L855.45 1578.57 L857.44 1578.65 L859.42 1578.73 L861.41 1578.81 L863.4 1578.89" stroke="#008000" stroke-width="4.1" fill="none" stroke-linejoin="round"/>
</g>
<rect x="35.4" y="965.5" width="828.2" height="615.8" fill="none" stroke="#cccccc" stroke-width="1.8"/>
<rect x="627.4" y="986.9" width="46.6" height="16.2" fill="#0000ff" fill-opacity="0.65"/>
<text transform="translate(692.9 1003.1) scale(1 1.04)" font-size="22.9" filter="url(#tb)">Normal-NC</text>
<rect x="627.4" y="1021.4" width="46.6" height="16.2" fill="#008000" fill-opacity="0.65"/>
<text transform="translate(692.9 1037.6) scale(1 1.04)" font-size="22.9" filter="url(#tb)">Abnormal-MCI</text>
<text transform="translate(69.3 1607)" font-size="22.5" text-anchor="middle" filter="url(#tb)">0.0</text>
<text transform="translate(228.5 1607)" font-size="22.5" text-anchor="middle" filter="url(#tb)">0.2</text>
<text transform="translate(386.9 1607)" font-size="22.5" text-anchor="middle" filter="url(#tb)">0.4</text>
<text transform="translate(545.6 1607)" font-size="22.5" text-anchor="middle" filter="url(#tb)">0.6</text>
<text transform="translate(704 1607)" font-size="22.5" text-anchor="middle" filter="url(#tb)">0.8</text>
<text transform="translate(862.4 1607)" font-size="22.5" text-anchor="middle" filter="url(#tb)">1.0</text>
<text transform="translate(27.4 1589.74)" font-size="22.5" text-anchor="end" filter="url(#tb)">0</text>
<text transform="translate(27.4 1466.58)" font-size="22.5" text-anchor="end" filter="url(#tb)">1</text>
<text transform="translate(27.4 1343.42)" font-size="22.5" text-anchor="end" filter="url(#tb)">2</text>
<text transform="translate(27.4 1220.26)" font-size="22.5" text-anchor="end" filter="url(#tb)">3</text>
<text transform="translate(27.4 1097.1)" font-size="22.5" text-anchor="end" filter="url(#tb)">4</text>
<text transform="translate(27.4 973.94)" font-size="22.5" text-anchor="end" filter="url(#tb)">5</text>
<text transform="translate(449.2 949.1) scale(1 1.03)" font-size="27.94" text-anchor="middle" filter="url(#tb)">Anomaly scores for normal and abnormal cases</text>
<text transform="translate(449.4 1640.3) scale(1 1.02)" font-size="23.2" text-anchor="middle" filter="url(#tb)">Anomaly Score</text>
<text transform="translate(434.9 1722.2) scale(1 1.07)" font-family='"Liberation Serif", serif' font-size="36" fill="#000" style="stroke:none" text-anchor="middle" letter-spacing="0.65" filter="url(#tb)">(<tspan font-weight="bold" font-size="33.5">b</tspan>)</text>
</svg>
</body></html>
